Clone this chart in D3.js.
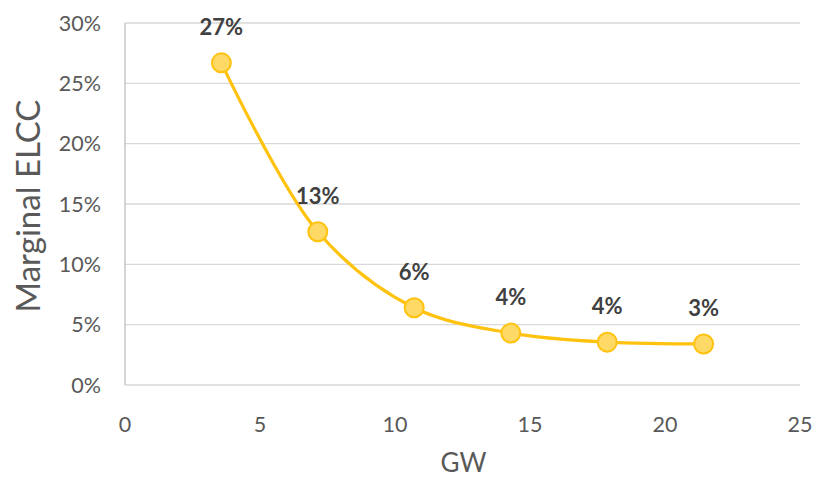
<!DOCTYPE html>
<html>
<head>
<meta charset="utf-8">
<script src="https://cdn.jsdelivr.net/npm/d3@7"></script>
<style>
  body { margin: 0; background: #fff; }
  text { font-family: Lato, "Open Sans", sans-serif; }
</style>
</head>
<body>
<svg id="chart" width="817" height="481"></svg>
<script>
// data
const gw = [3.57, 7.14, 10.71, 14.29, 17.86, 21.43];
const elcc = [26.7, 12.7, 6.4, 4.3, 3.55, 3.4];
const labels = ["27%", "13%", "6%", "4%", "4%", "3%"];
const xTicks = [0, 5, 10, 15, 20, 25];
const yTicks = [0, 5, 10, 15, 20, 25, 30];

let svg = d3.select("#chart");
const plotLeft = 125, plotRight = 800, plotTop = 23, plotBottom = 385;

let x = d3.scaleLinear().domain([0, 25]).range([plotLeft, plotRight]);
let y = d3.scaleLinear().domain([0, 30]).range([plotBottom, plotTop]);

// gridlines
svg.append("g").selectAll("line")
  .data(yTicks)
  .join("line")
  .attr("x1", plotLeft).attr("x2", plotRight)
  .attr("y1", d => y(d)).attr("y2", d => y(d))
  .attr("stroke", "#d9d9d9")
  .attr("stroke-width", 1.3);

// vertical axis line
svg.append("line")
  .attr("x1", plotLeft).attr("x2", plotLeft)
  .attr("y1", plotTop).attr("y2", plotBottom)
  .attr("stroke", "#bfbfbf")
  .attr("stroke-width", 1.3);

// y tick labels
svg.append("g").selectAll("text")
  .data(yTicks)
  .join("text")
  .attr("x", plotLeft - 24)
  .attr("y", d => y(d))
  .attr("dy", "0.35em")
  .attr("text-anchor", "end")
  .attr("font-size", 21.5)
  .attr("fill", "#595959")
  .text(d => d + "%");

// x tick labels
svg.append("g").selectAll("text")
  .data(xTicks)
  .join("text")
  .attr("x", d => x(d))
  .attr("y", plotBottom + 47)
  .attr("text-anchor", "middle")
  .attr("font-size", 21.5)
  .attr("fill", "#595959")
  .text(d => d);

// axis titles
svg.append("text")
  .attr("transform", "translate(40," + ((plotTop + plotBottom) / 2 + 2) + ") rotate(-90)")
  .attr("text-anchor", "middle")
  .attr("font-size", 33)
  .attr("fill", "#595959")
  .text("Marginal ELCC");

svg.append("text")
  .attr("x", (plotLeft + plotRight) / 2 + 1)
  .attr("y", 472)
  .attr("text-anchor", "middle")
  .attr("font-size", 26)
  .attr("fill", "#595959")
  .text("GW");

const pts = gw.map((g, i) => ({ x: g, y: elcc[i], label: labels[i] }));

let line = d3.line()
  .x(d => x(d.x))
  .y(d => y(d.y))
  .curve(d3.curveCatmullRom.alpha(0.5));

svg.append("path")
  .datum(pts)
  .attr("d", line)
  .attr("fill", "none")
  .attr("stroke", "#ffc20e")
  .attr("stroke-width", 3.2);

svg.append("g").selectAll("circle")
  .data(pts)
  .join("circle")
  .attr("cx", d => x(d.x))
  .attr("cy", d => y(d.y))
  .attr("r", 9.5)
  .attr("fill", "#ffd966")
  .attr("stroke", "#ffc20e")
  .attr("stroke-width", 2);

svg.append("g").selectAll("text")
  .data(pts)
  .join("text")
  .attr("x", d => x(d.x))
  .attr("y", d => y(d.y) - 28)
  .attr("text-anchor", "middle")
  .attr("font-size", 22)
  .attr("font-weight", "bold")
  .attr("fill", "#404040")
  .text(d => d.label);
</script>
</body>
</html>
